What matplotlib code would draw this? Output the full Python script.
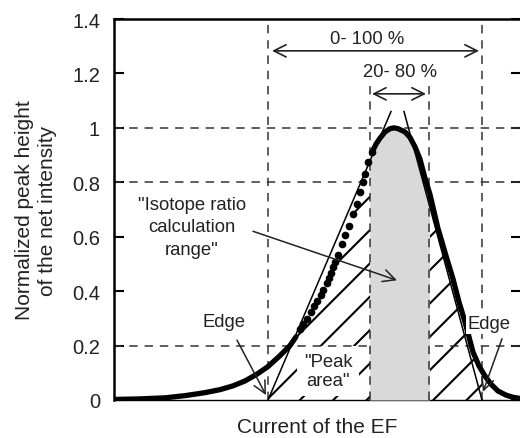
import numpy as np
import matplotlib.pyplot as plt
from matplotlib.patches import Rectangle

plt.rcParams['font.family'] = ['Liberation Sans', 'DejaVu Sans']
plt.rcParams['hatch.linewidth'] = 1.5

# peak profile (current in arbitrary units, normalized height)
tail_x = [114, 140, 165, 185, 205, 220, 233, 245, 257, 268, 280, 290, 296]
tail_y = [0.002, 0.004, 0.008, 0.016, 0.027, 0.038, 0.052, 0.07, 0.095, 0.123, 0.163, 0.2, 0.232]
# sparse section of the rising edge (individual points visible)
dots_x = [300, 303, 307, 311, 314, 317, 321, 323, 327, 329, 331, 333, 335, 338,
          342, 345, 349, 353, 357, 360, 363, 365, 368, 372]
dots_y = [0.261, 0.279, 0.298, 0.324, 0.345, 0.365, 0.386, 0.405, 0.429, 0.447, 0.468,
          0.488, 0.508, 0.533, 0.574, 0.605, 0.641, 0.684, 0.721, 0.764, 0.801, 0.831,
          0.874, 0.91]
peak_x = [372, 376, 380, 385, 390, 394, 398, 405, 410, 415, 420, 425, 430, 438, 446,
          453, 459, 465, 473, 479, 485, 491, 498, 506, 513, 521]
peak_y = [0.91, 0.94, 0.962, 0.985, 0.997, 1.0, 0.997, 0.985, 0.965, 0.93, 0.885, 0.815,
          0.755, 0.63, 0.53, 0.445, 0.36, 0.287, 0.176, 0.125, 0.088, 0.058, 0.033,
          0.018, 0.01, 0.005]

edge_left, edge_right = 268, 482      # 0 % and 100 % (tangent feet)
p20, p80 = 370, 429                   # 20 % and 80 %
tangent_top = 1.06
tangent_top_left, tangent_top_right = 391, 404
grid_levels = [0.2, 0.8, 1.0]
yticks = [0, 0.2, 0.4, 0.6, 0.8, 1.0, 1.2, 1.4]
ytick_labels = ['0', '0.2', '0.4', '0.6', '0.8', '1', '1.2', '1.4']

curve_x = tail_x + dots_x + peak_x
curve_y = tail_y + dots_y + peak_y

fig = plt.figure(figsize=(5.2, 4.39), dpi=100)
ax = fig.add_axes([114/520, 38/439, 407/520, 381/439])
ax.set_xlim(114, 521)
ax.set_ylim(0, 1.4)

dash = dict(color='#333333', lw=1.1, dashes=(5.5, 4.5))
txt = '#222222'
fs = 13.3

# hatched "peak area" parts
for x0, x1 in [(edge_left, p20), (p80, edge_right)]:
    h = ax.fill_between(curve_x, curve_y, 0, facecolor='none', edgecolor='black',
                        hatch='/', linewidth=0, zorder=1)
    h.set_clip_path(Rectangle((x0, 0), x1 - x0, 2, transform=ax.transData))

# grid lines
for g in grid_levels:
    ax.axhline(g, zorder=2, **dash)

# grey 20-80 % region
gr = ax.fill_between(curve_x, curve_y, 0, color='#d9d9d9', linewidth=0, zorder=3)
gr.set_clip_path(Rectangle((p20, 0), p80 - p20, 2, transform=ax.transData))

# vertical markers
for xv in [edge_left, edge_right]:
    ax.plot([xv, xv], [0, 1.4], zorder=3.5, **dash)
for xv in [p20, p80]:
    ax.plot([xv, xv], [0, 1.17], zorder=3.5, **dash)

# tangents
ax.plot([edge_left, tangent_top_left], [0, tangent_top], color='black', lw=1.1, zorder=4)
ax.plot([edge_right, tangent_top_right], [0, tangent_top], color='black', lw=1.1, zorder=4)

# measured profile
ax.plot(tail_x, tail_y, color='black', lw=3.8, solid_capstyle='round', zorder=5)
ax.plot(peak_x, peak_y, color='black', lw=3.8, solid_capstyle='round', zorder=5)
ax.plot(dots_x, dots_y, 'o', color='black', ms=4.5, zorder=5)

# range arrows
arr = dict(arrowstyle='<->', mutation_scale=22, lw=1.2, color=txt, shrinkA=0, shrinkB=0)
ax.annotate('', xy=(479, 1.283), xytext=(272, 1.283), arrowprops=arr)
ax.text(367, 1.327, '0- 100 %', ha='center', va='center', fontsize=fs, color=txt)
ax.annotate('', xy=(426, 1.125), xytext=(372, 1.125), arrowprops=arr)
ax.text(400, 1.206, '20- 80 %', ha='center', va='center', fontsize=fs, color=txt)

# annotations
one = dict(arrowstyle='->', mutation_scale=22, lw=1.1, color=txt, shrinkA=0, shrinkB=0)
ax.text(192, 0.636, '"Isotope ratio\ncalculation\nrange"', ha='center', va='center',
        fontsize=fs, color=txt, linespacing=1.4)
ax.annotate('', xy=(397, 0.44), xytext=(253, 0.62), arrowprops=one, zorder=6)
ax.text(224, 0.287, 'Edge', ha='center', va='center', fontsize=fs, color=txt)
ax.annotate('', xy=(266, 0.018), xytext=(237, 0.22), arrowprops=one, zorder=6)
ax.text(489, 0.28, 'Edge', ha='center', va='center', fontsize=fs, color=txt,
        bbox=dict(boxstyle='square,pad=0.1', fc='white', ec='none'), zorder=6)
ax.annotate('', xy=(483, 0.03), xytext=(502, 0.225), arrowprops=one, zorder=6)
ax.text(328, 0.107, '"Peak\narea"', ha='center', va='center', fontsize=fs, color=txt,
        linespacing=1.2, bbox=dict(boxstyle='square,pad=0.35', fc='white', ec='none'),
        zorder=1.5)

# axes styling
ax.set_xticks([])
ax.set_yticks(yticks)
ax.set_yticklabels(ytick_labels)
ax.tick_params(axis='y', direction='in', length=7, width=1.5, right=True,
               labelsize=14.5, pad=10, labelcolor=txt)
ax.spines['left'].set_linewidth(1.8)
ax.spines['top'].set_linewidth(1.8)
ax.spines['bottom'].set_linewidth(1.0)
ax.spines['right'].set_linewidth(1.8)

ax.set_ylabel('Normalized peak height\nof the net intensity', fontsize=15, color=txt,
              linespacing=1.3)
ax.yaxis.set_label_coords(-0.139, 0.5)
ax.set_xlabel('Current of the EF', fontsize=15, color=txt)
ax.xaxis.set_label_coords(0.5, -0.045)

fig.savefig('out.png', dpi=100)
